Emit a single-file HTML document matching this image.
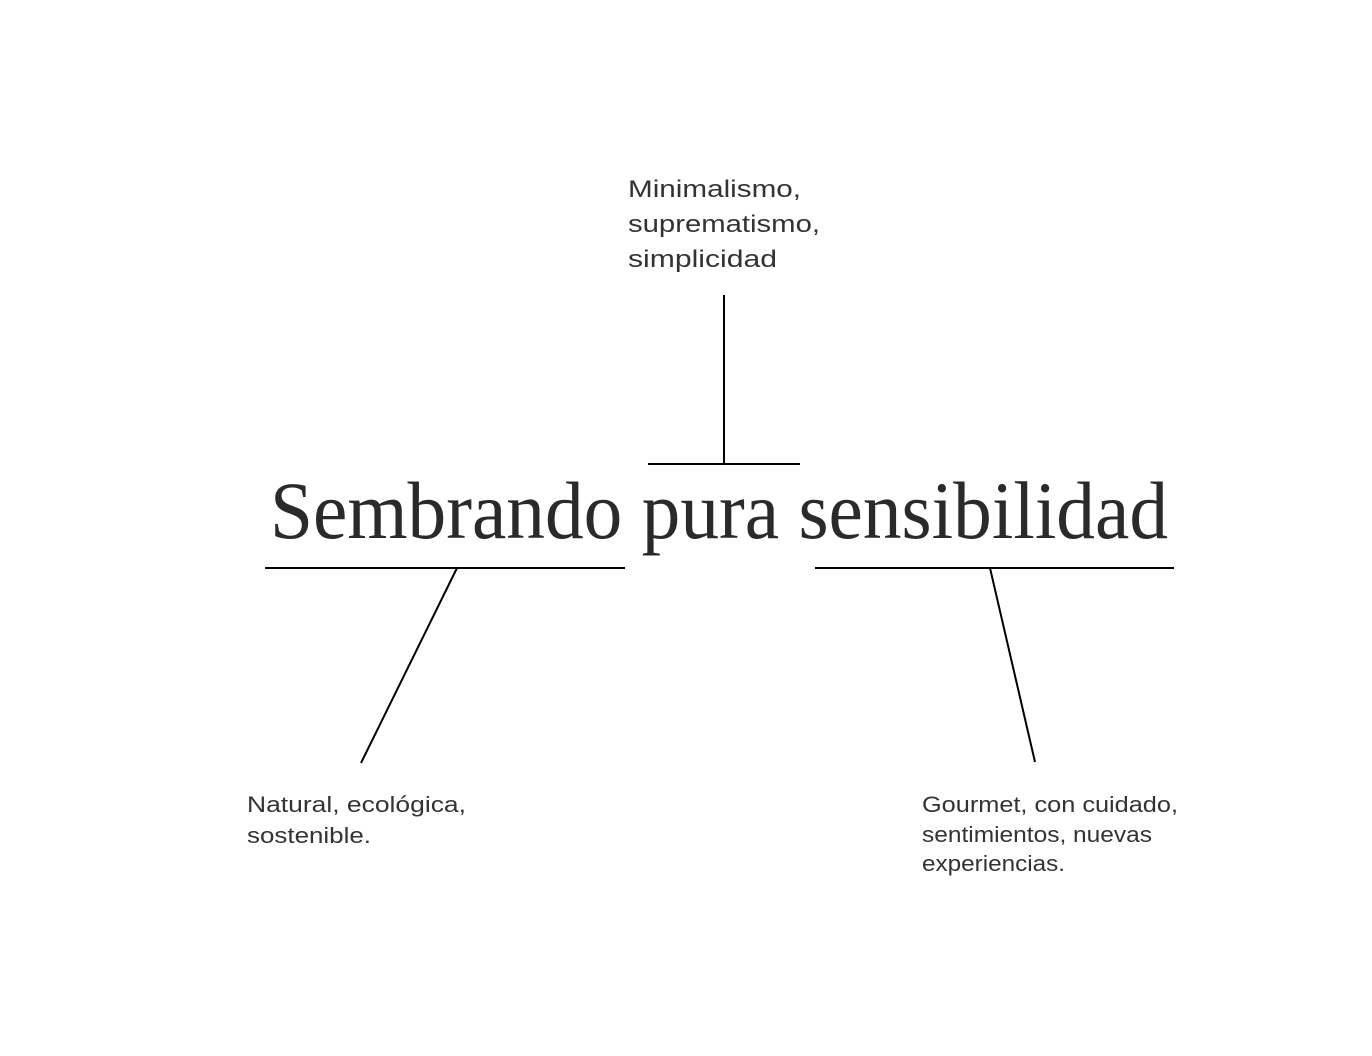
<!DOCTYPE html>
<html><head><style>html,body{margin:0;padding:0;background:#fff;}svg{display:block}</style></head>
<body>
<svg width="1372" height="1056" viewBox="0 0 1372 1056" xmlns="http://www.w3.org/2000/svg">
<g font-family="Liberation Sans, sans-serif" fill="#333" font-size="24">
<text x="628" y="197" textLength="173" lengthAdjust="spacingAndGlyphs">Minimalismo,</text>
<text x="628" y="232" textLength="192" lengthAdjust="spacingAndGlyphs">suprematismo,</text>
<text x="628" y="267" textLength="149" lengthAdjust="spacingAndGlyphs">simplicidad</text>
</g>
<g font-family="Liberation Sans, sans-serif" fill="#333" font-size="22">
<text x="247" y="812" textLength="219" lengthAdjust="spacingAndGlyphs">Natural, ecológica,</text>
<text x="247" y="843" textLength="124" lengthAdjust="spacingAndGlyphs">sostenible.</text>
<text x="922" y="812" textLength="256" lengthAdjust="spacingAndGlyphs">Gourmet, con cuidado,</text>
<text x="922" y="842" textLength="230" lengthAdjust="spacingAndGlyphs">sentimientos, nuevas</text>
<text x="922" y="871" textLength="143" lengthAdjust="spacingAndGlyphs">experiencias.</text>
</g>
<text x="270" y="538" font-family="Liberation Serif, serif" font-size="82" fill="#2a2a2a" textLength="898" lengthAdjust="spacingAndGlyphs">Sembrando pura sensibilidad</text>
<g stroke="#000" stroke-width="2" fill="none">
<line x1="724" y1="295" x2="724" y2="463"/>
<line x1="648" y1="464" x2="800" y2="464"/>
<line x1="265" y1="568" x2="625" y2="568"/>
<line x1="815" y1="568" x2="1174" y2="568"/>
<line x1="457" y1="568" x2="361" y2="763"/>
<line x1="990" y1="568" x2="1035" y2="762"/>
</g>
</svg>
</body></html>
